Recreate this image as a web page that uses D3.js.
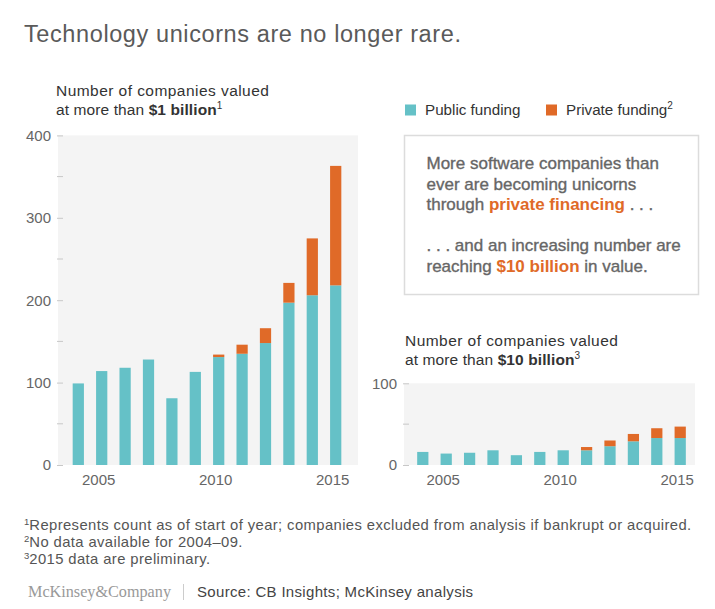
<!DOCTYPE html>
<html><head><meta charset="utf-8">
<script src="https://cdn.jsdelivr.net/npm/d3@7"></script>
<style>
html,body{margin:0;padding:0;background:#fff;}
svg{display:block;font-family:"Liberation Sans",Arial,Helvetica,sans-serif;}
</style></head>
<body>
<svg id="chart" width="715" height="609"></svg>
<script>
// ---- data ----
const years = [2004,2005,2006,2007,2008,2009,2010,2011,2012,2013,2014,2015];
const public1B  = [99,114,118,128,81,113,131,135,148,197,206,218];
const private1B = [0,0,0,0,0,0,3,11,18,24,69,145];
const public10B  = [16,14,15,18,12,16,18,18,23,29,33,33];
const private10B = [0,0,0,0,0,0,0,4,7,9,12,14];
const xTickYears = [2005,2010,2015];
const yTicks1B = [0,100,200,300,400];
const yMinor1B = [50,150,250,350];
const yTicks10B = [0,100];
const yMinor10B = [50];
const seriesNames = ["Public funding","Private funding"];

const TEAL = "#65c1c7", ORANGE = "#e06a28", BG = "#f4f4f4";
const svg = d3.select("#chart");

// title
svg.append("text").attr("x",24).attr("y",42).attr("font-size",23.5).attr("letter-spacing",0.6)
  .attr("fill","#5a5a5a").text("Technology unicorns are no longer rare.");

function subtitle(x, y, bold, sup){
  svg.append("text").attr("x",x).attr("y",y).attr("font-size",15.5).attr("letter-spacing",0.45)
    .attr("fill","#333").text("Number of companies valued");
  const t2 = svg.append("text").attr("x",x).attr("y",y+18.5).attr("font-size",15.5).attr("letter-spacing",0.1).attr("fill","#333");
  t2.append("tspan").text("at more than ");
  t2.append("tspan").attr("font-weight","bold").text(bold);
  t2.append("tspan").attr("font-size",10).attr("dy",-6).text(sup);
}

function drawChart(opt){
  const {x0,x1,bandR,y0,yTop,maxV,ticks,minor,pub,priv} = opt;
  const x = d3.scaleBand().domain(years).range(bandR).paddingInner(0.52).paddingOuter(0.26);
  const y = d3.scaleLinear().domain([0,maxV]).range([y0,yTop]);
  const g = svg.append("g");
  g.append("rect").attr("x",x0).attr("y",yTop).attr("width",x1-x0).attr("height",y0-yTop).attr("fill",BG);
  // y axis
  const yAxis = d3.axisLeft(y).tickValues(ticks).tickSize(6).tickPadding(6);
  const ya = g.append("g").attr("transform",`translate(${x0+5},0)`).call(yAxis);
  ya.select(".domain").remove();
  ya.selectAll("line").attr("stroke","#c8c8c8");
  ya.selectAll("text").attr("font-size",15).attr("fill","#666").attr("font-family","Liberation Sans, Arial, sans-serif");
  g.selectAll(".minor").data(minor).join("line")
    .attr("x1",x0-1).attr("x2",x0+5).attr("y1",d=>y(d)).attr("y2",d=>y(d)).attr("stroke","#c8c8c8");
  // bars
  g.selectAll(".pub").data(years).join("rect")
    .attr("x",d=>x(d)).attr("width",x.bandwidth())
    .attr("y",(d,i)=>y(pub[i])).attr("height",(d,i)=>y0-y(pub[i])).attr("fill",TEAL);
  g.selectAll(".priv").data(years).join("rect")
    .attr("x",d=>x(d)).attr("width",x.bandwidth())
    .attr("y",(d,i)=>y(pub[i]+priv[i])).attr("height",(d,i)=>y(pub[i])-y(pub[i]+priv[i])).attr("fill",ORANGE);
  // x labels
  g.selectAll(".xl").data(xTickYears).join("text")
    .attr("x",d=>x(d)+x.bandwidth()/2-3).attr("y",y0+20).attr("text-anchor","middle")
    .attr("font-size",15).attr("fill","#666").text(d=>d);
}

subtitle(56,96,"$1 billion","1");
drawChart({x0:58,x1:358,bandR:[66.6,347.4],y0:465,yTop:135.4,maxV:400,ticks:yTicks1B,minor:yMinor1B,pub:public1B,priv:private1B});

subtitle(405,346,"$10 billion","3");
drawChart({x0:404,x1:695,bandR:[411.1,691.9],y0:465,yTop:383.3,maxV:100,ticks:yTicks10B,minor:yMinor10B,pub:public10B,priv:private10B});

// legend
const leg = [{n:seriesNames[0],c:TEAL,x:405,sup:""},{n:seriesNames[1],c:ORANGE,x:546,sup:"2"}];
leg.forEach(l=>{
  svg.append("rect").attr("x",l.x).attr("y",104.5).attr("width",11).attr("height",11).attr("fill",l.c);
  const t = svg.append("text").attr("x",l.x+20).attr("y",115).attr("font-size",15.2).attr("fill","#333");
  t.append("tspan").text(l.n);
  if(l.sup) t.append("tspan").attr("font-size",10).attr("dy",-6).text(l.sup);
});

// annotation box
svg.append("rect").attr("x",404.5).attr("y",135.5).attr("width",294).attr("height",159)
  .attr("fill","#fff").attr("stroke","#dcdcdc").attr("stroke-width",1.5);
const boxLines = [
  [["More software companies than",false]],
  [["ever are becoming unicorns",false]],
  [["through ",false],["private financing",true],[" . . .",false]],
  null,
  [[". . . and an increasing number are",false]],
  [["reaching ",false],["$10 billion",true],[" in value.",false]]
];
let by = 169;
boxLines.forEach(line=>{
  if(line){
    const t = svg.append("text").attr("x",426.5).attr("y",by).attr("font-size",17)
      .attr("fill","#666").attr("stroke","#666").attr("stroke-width",0.35);
    line.forEach(([s,b])=>{
      const ts = t.append("tspan").text(s);
      if(b) ts.attr("font-weight","bold").attr("fill",ORANGE).attr("stroke","none");
    });
  }
  by += 20.5;
});

// footnotes
const notes = [["1","Represents count as of start of year; companies excluded from analysis if bankrupt or acquired."],
               ["2","No data available for 2004–09."],
               ["3","2015 data are preliminary."]];
notes.forEach((n,i)=>{
  const t = svg.append("text").attr("x",24).attr("y",529.5+i*17.3).attr("font-size",14.8)
    .attr("letter-spacing",0.4).attr("fill","#555");
  t.append("tspan").attr("font-size",9.5).attr("letter-spacing",0).attr("dy",-5).text(n[0]);
  t.append("tspan").attr("dy",5).text(n[1]);
});

// footer
svg.append("text").attr("x",28).attr("y",597).attr("font-family","Liberation Serif, Times New Roman, serif")
  .attr("font-size",16.2).attr("fill","#999").text("McKinsey&Company");
svg.append("line").attr("x1",183.5).attr("x2",183.5).attr("y1",584).attr("y2",600).attr("stroke","#ccc");
svg.append("text").attr("x",197).attr("y",597).attr("font-size",15).attr("letter-spacing",0.32).attr("fill","#444")
  .text("Source: CB Insights; McKinsey analysis");
</script>
</body></html>
